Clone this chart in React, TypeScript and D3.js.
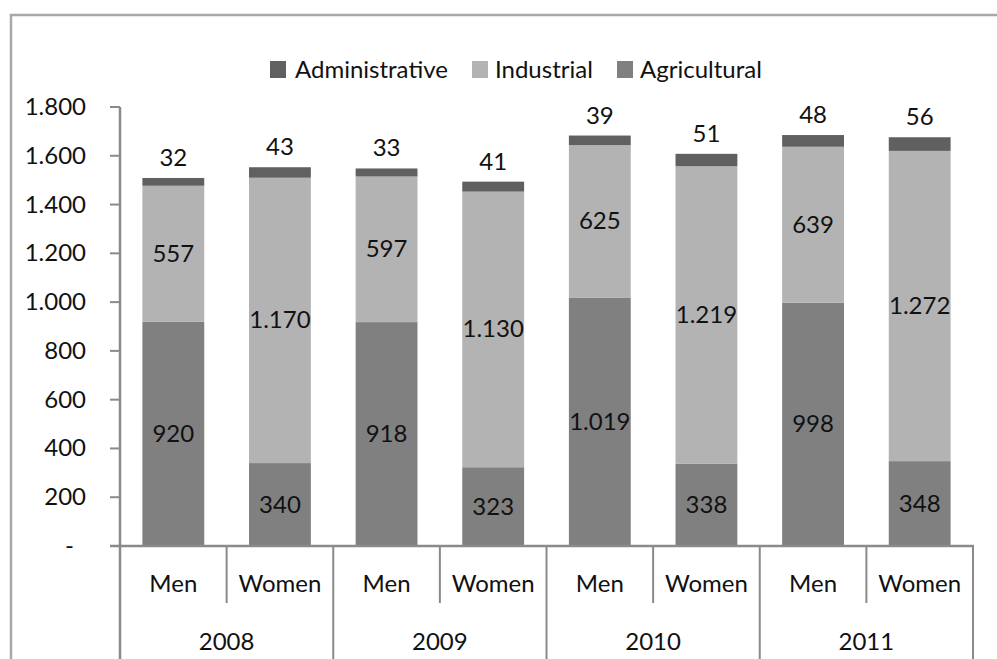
import React from "react";
import * as d3 from "d3";

// Employment by sector, split by year and gender
const years = ["2008", "2009", "2010", "2011"];
const genders = ["Men", "Women"];
const agricultural = [920, 340, 918, 323, 1019, 338, 998, 348];
const industrial = [557, 1170, 597, 1130, 625, 1219, 639, 1272];
const administrative = [32, 43, 33, 41, 39, 51, 48, 56];
const yTicks = [0, 200, 400, 600, 800, 1000, 1200, 1400, 1600, 1800];

const seriesColors: Record<string, string> = {
  Administrative: "#606060",
  Industrial: "#b3b3b3",
  Agricultural: "#808080",
};

const W = 997;
const H = 659;
const FONT = "Lato, 'Open Sans', sans-serif";
const AXIS = "#8a8a8a";
const FS = 24;

const locale = d3.formatLocale({
  decimal: ",",
  thousands: ".",
  grouping: [3],
  currency: ["", ""],
});
const fmt = locale.format(",d");
const tickFmt = (v: number) => (v === 0 ? "-" : fmt(v));

export default function App() {
  const plotLeft = 120;
  const plotRight = 973;
  const plotTop = 107;
  const plotBottom = 546;

  const n = agricultural.length;
  const idx = d3.range(n);
  const x = d3
    .scaleBand<number>()
    .domain(idx)
    .range([plotLeft, plotRight])
    .paddingInner(0.42)
    .paddingOuter(0.21);
  const y = d3.scaleLinear().domain([0, 1800]).range([plotBottom, plotTop]);

  const rows = idx.map((i) => ({
    Agricultural: agricultural[i],
    Industrial: industrial[i],
    Administrative: administrative[i],
  }));
  const stack = d3
    .stack<any>()
    .keys(["Agricultural", "Industrial", "Administrative"]);
  const layers = stack(rows);

  const step = x.step();
  const yearWidth = step * genders.length;

  // legend layout
  const legendItems = [
    { name: "Administrative", sx: 270, tx: 295 },
    { name: "Industrial", sx: 472, tx: 495 },
    { name: "Agricultural", sx: 617, tx: 640 },
  ];

  return (
    <svg
      width={W}
      height={H}
      style={{ position: "absolute", left: 0, top: 0, background: "#fff" }}
      fontFamily={FONT}
    >
      {/* chart frame */}
      <rect
        x={11}
        y={15}
        width={1010}
        height={700}
        fill="none"
        stroke="#a8a8a8"
        strokeWidth={2.5}
      />

      {/* legend */}
      {legendItems.map((d) => (
        <g key={d.name}>
          <rect x={d.sx} y={61} width={16} height={17} fill={seriesColors[d.name]} />
          <text x={d.tx} y={78} fontSize={FS} fill="#111">
            {d.name}
          </text>
        </g>
      ))}

      {/* stacked bars */}
      {layers.map((layer) => (
        <g key={layer.key} fill={seriesColors[layer.key as string]}>
          {layer.map((seg, i) => (
            <rect
              key={i}
              x={x(i)}
              y={y(seg[1])}
              width={x.bandwidth()}
              height={y(seg[0]) - y(seg[1])}
            />
          ))}
        </g>
      ))}

      {/* value labels */}
      {layers.map((layer) =>
        layer.map((seg, i) => {
          const v = seg[1] - seg[0];
          const cx = (x(i) as number) + x.bandwidth() / 2;
          const isTop = layer.key === "Administrative";
          const ty = isTop ? y(seg[1]) - 12 : (y(seg[0]) + y(seg[1])) / 2 + 8;
          return (
            <text
              key={layer.key + i}
              x={cx}
              y={ty}
              textAnchor="middle"
              fontSize={FS}
              fill="#111"
            >
              {fmt(v)}
            </text>
          );
        })
      )}

      {/* value axis */}
      <line x1={plotLeft} x2={plotLeft} y1={plotTop} y2={H} stroke={AXIS} strokeWidth={2.5} />
      {yTicks.map((t) => (
        <g key={t}>
          <line x1={110} x2={plotLeft} y1={y(t)} y2={y(t)} stroke={AXIS} strokeWidth={2} />
          <text
            x={t === 0 ? 74 : 86}
            y={y(t) + 8}
            textAnchor="end"
            fontSize={FS}
            fill="#111"
          >
            {tickFmt(t)}
          </text>
        </g>
      ))}

      {/* category axis: gender row and year row */}
      <line x1={110} x2={plotRight + 1} y1={plotBottom} y2={plotBottom} stroke={AXIS} strokeWidth={2.5} />
      {years.map((yr, k) => {
        const x0 = plotLeft + k * yearWidth;
        return (
          <g key={yr}>
            <line x1={x0 + yearWidth} x2={x0 + yearWidth} y1={plotBottom} y2={H} stroke={AXIS} strokeWidth={2} />
            <line x1={x0 + step} x2={x0 + step} y1={plotBottom} y2={603} stroke={AXIS} strokeWidth={2} />
            {genders.map((g, j) => (
              <text
                key={g}
                x={x0 + step * (j + 0.5)}
                y={592}
                textAnchor="middle"
                fontSize={FS}
                fill="#111"
              >
                {g}
              </text>
            ))}
            <text x={x0 + yearWidth / 2} y={650} textAnchor="middle" fontSize={FS} fill="#111">
              {yr}
            </text>
          </g>
        );
      })}
    </svg>
  );
}
